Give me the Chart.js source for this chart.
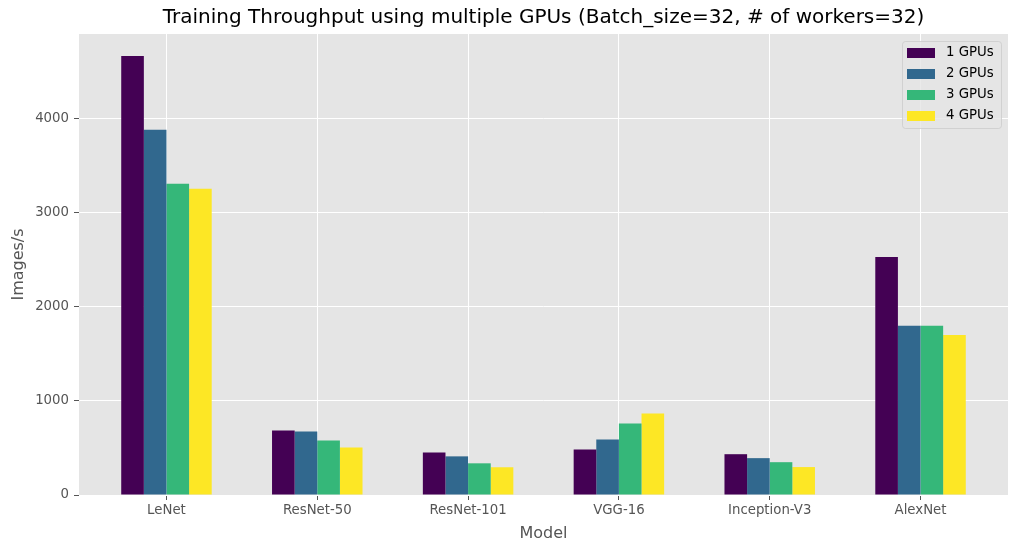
<!DOCTYPE html>
<html>
<head>
<meta charset="utf-8">
<script src="https://cdn.jsdelivr.net/npm/chart.js@4.4.1/dist/chart.umd.min.js"></script>
<style>
html,body{margin:0;padding:0;background:#fff;}
#wrap{width:1018px;height:552px;position:relative;}
</style>
</head>
<body>
<div id="wrap"><canvas id="c" width="1018" height="552"></canvas></div>
<script>
const models = ["LeNet", "ResNet-50", "ResNet-101", "VGG-16", "Inception-V3", "AlexNet"];
const seriesNames = ["1 GPUs", "2 GPUs", "3 GPUs", "4 GPUs"];
const gpu1 = [4670, 686, 453, 485, 434, 2531];
const gpu2 = [3884, 676, 411, 590, 392, 1800];
const gpu3 = [3310, 580, 337, 761, 349, 1800];
const gpu4 = [3257, 506, 295, 866, 297, 1703];
const yTicks = [0, 1000, 2000, 3000, 4000];
const colors = ["#440154", "#31688e", "#35b779", "#fde725"];

const FONT = "'DejaVu Sans', sans-serif";
const allSeries = [gpu1, gpu2, gpu3, gpu4];
const yMax = Math.max(...allSeries.flat()) * 1.05;

const datasets = allSeries.map((vals, k) => ({
  label: seriesNames[k],
  data: vals.map((v, i) => ({x: i, y: v})),
  backgroundColor: colors[k],
  borderWidth: 0,
  barPercentage: 1.0,
  categoryPercentage: 0.6
}));

const bgPlugin = {
  id: 'bg',
  beforeDraw(chart) {
    const {ctx, chartArea: a} = chart;
    ctx.save();
    ctx.fillStyle = '#e5e5e5';
    ctx.fillRect(a.left, a.top, a.right - a.left, a.bottom - a.top);
    ctx.restore();
  }
};

const titlePlugin = {
  id: 'mtitle',
  afterDraw(chart) {
    const {ctx, chartArea: a} = chart;
    ctx.save();
    ctx.fillStyle = '#000';
    ctx.font = "20px " + FONT;
    ctx.textAlign = 'center';
    ctx.textBaseline = 'middle';
    ctx.fillText("Training Throughput using multiple GPUs (Batch_size=32, # of workers=32)", (a.left + a.right) / 2, 18);
    ctx.restore();
  }
};

const legendPlugin = {
  id: 'mlegend',
  afterDraw(chart) {
    const {ctx, chartArea: a} = chart;
    const x0 = a.right - 106, y0 = a.top + 7, w = 99, h = 87;
    ctx.save();
    ctx.globalAlpha = 0.8;
    ctx.fillStyle = '#e5e5e5';
    ctx.strokeStyle = '#cccccc';
    ctx.lineWidth = 1;
    ctx.beginPath();
    ctx.roundRect(x0 + 0.5, y0 + 0.5, w, h, 3);
    ctx.fill();
    ctx.stroke();
    ctx.globalAlpha = 1;
    ctx.font = "13.3px " + FONT;
    ctx.textBaseline = 'middle';
    ctx.textAlign = 'left';
    chart.data.datasets.forEach((ds, i) => {
      const cy = y0 + 12 + i * 21;
      ctx.fillStyle = ds.backgroundColor;
      ctx.fillRect(x0 + 5, cy - 5, 28, 10);
      ctx.fillStyle = '#000';
      ctx.fillText(ds.label, x0 + 44, cy);
    });
    ctx.restore();
  }
};

new Chart(document.getElementById('c'), {
  type: 'bar',
  data: { datasets },
  plugins: [bgPlugin, titlePlugin, legendPlugin],
  options: {
    responsive: false,
    animation: false,
    devicePixelRatio: 1,
    layout: { padding: { top: 34, right: 10, left: 0, bottom: 0 } },
    plugins: { legend: { display: false }, tooltip: { enabled: false }, title: { display: false } },
    scales: {
      x: {
        type: 'linear',
        min: -0.58,
        max: models.length - 1 + 0.58,
        offset: false,
        afterBuildTicks(scale) {
          scale.ticks = models.map((m, i) => ({ value: i }));
        },
        afterFit(scale) { scale.height = 57; },
        ticks: {
          callback: (v) => models[v],
          color: '#555555',
          font: { family: FONT, size: 13.3 },
          padding: 3,
          maxRotation: 0,
          autoSkip: false
        },
        grid: { offset: false, color: '#ffffff', lineWidth: 1, drawTicks: true, tickLength: 5, tickColor: '#555555', tickWidth: 1 },
        border: { display: false },
        title: { display: true, text: 'Model', color: '#555555', font: { family: FONT, size: 16 }, padding: { top: 4, bottom: 9 } }
      },
      y: {
        min: 0,
        max: yMax,
        afterBuildTicks(scale) {
          scale.ticks = yTicks.map(v => ({ value: v }));
        },
        afterFit(scale) { scale.width = 79; },
        ticks: {
          callback: (v) => String(v),
          color: '#555555',
          font: { family: FONT, size: 13.3 },
          padding: 5
        },
        grid: { color: '#ffffff', lineWidth: 1, drawTicks: true, tickLength: 5, tickColor: '#555555', tickWidth: 1 },
        border: { display: false },
        title: { display: true, text: 'Images/s', color: '#555555', font: { family: FONT, size: 16 }, padding: { top: 9, bottom: 4 } }
      }
    }
  }
});
</script>
</body>
</html>
